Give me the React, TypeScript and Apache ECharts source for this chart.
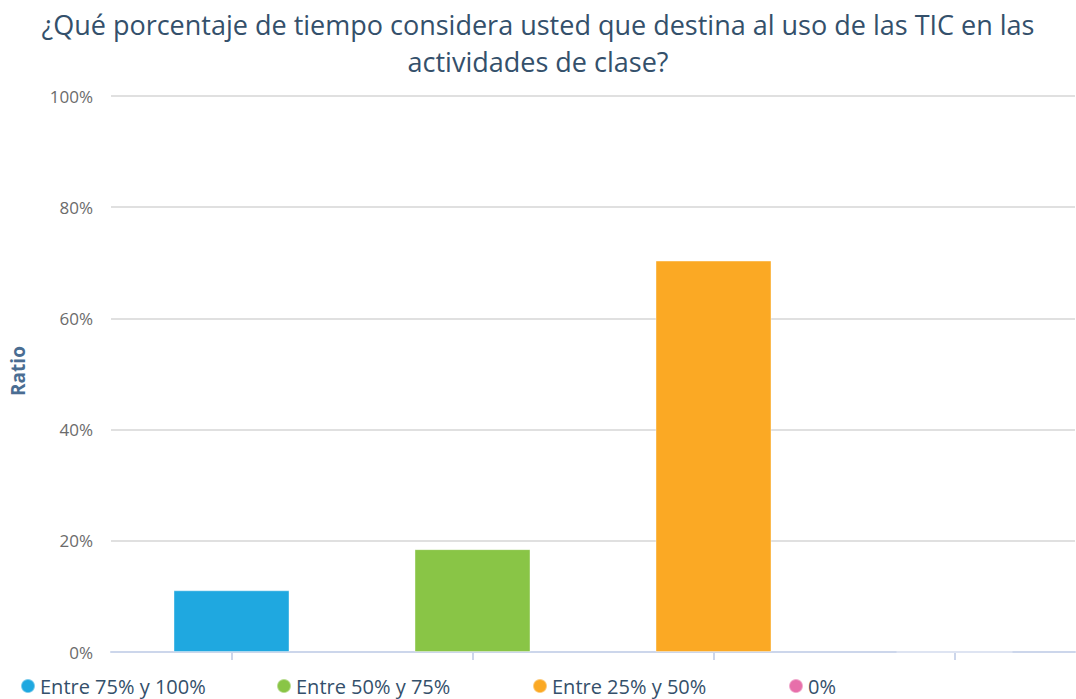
import React, { useEffect, useRef } from "react";
import * as echarts from "echarts";

const categories = ["Entre 75% y 100%", "Entre 50% y 75%", "Entre 25% y 50%", "0%"];
const values = [11.1, 18.5, 70.4, 0];
const colors = ["#1fa8e0", "#89c546", "#fba924", "#e76faa"];
const yTicks = [0, 20, 40, 60, 80, 100];

export default function App() {
  const ref = useRef<HTMLDivElement>(null);
  useEffect(() => {
    const chart = echarts.init(ref.current!, null, { renderer: "svg" });
    const font = "'Open Sans', sans-serif";
    chart.setOption({
      animation: false,
      title: {
        text: "¿Qué porcentaje de tiempo considera usted que destina al uso de las TIC en las\nactividades de clase?",
        left: "center",
        top: 1,
        textStyle: {
          fontFamily: font,
          fontSize: 27,
          fontWeight: "normal",
          color: "#34506b",
          lineHeight: 37,
          align: "center",
        },
      },
      legend: categories.map((name, i) => ({
        left: 15 + i * 256,
        bottom: -2,
        icon: "circle",
        itemWidth: 14,
        itemHeight: 14,
        itemGap: 6,
        textStyle: { fontFamily: font, fontSize: 20, color: "#34506b" },
        data: [name],
      })),
      grid: { left: 110, right: 1, top: 96, bottom: 47 },
      xAxis: {
        type: "category",
        data: categories,
        axisLine: { lineStyle: { color: "#ccd6eb", width: 2 } },
        axisTick: { show: true, interval: 0, alignWithLabel: true, length: 8, lineStyle: { color: "#ccd6eb", width: 2 } },
        axisLabel: { show: true, interval: 0, color: "rgba(0,0,0,0)", fontSize: 1 },
      },
      yAxis: {
        type: "value",
        min: yTicks[0],
        max: yTicks[yTicks.length - 1],
        interval: 20,
        name: "Ratio",
        nameLocation: "middle",
        nameGap: 84,
        nameTextStyle: { fontFamily: font, fontSize: 19, fontWeight: "bold", color: "#4a6d92", padding: [0, 0, 0, 6] },
        axisLabel: {
          formatter: "{value}%",
          fontFamily: font,
          fontSize: 17,
          color: "#6b6b6b",
          margin: 18,
        },
        splitLine: { lineStyle: { color: "#d6d6d6", width: 1.5 } },
        axisLine: { show: false },
        axisTick: { show: false },
      },
      series: categories.map((name, i) => ({
        name,
        type: "bar",
        barWidth: 116,
        barGap: "-100%",
        itemStyle: { color: colors[i], borderColor: "rgba(255,255,255,0.4)", borderWidth: 1 },
        data: categories.map((_, j) => (j === i ? values[i] : "-")),
      })),
    });
    return () => chart.dispose();
  }, []);
  return <div ref={ref} style={{ width: 1076, height: 699, position: "absolute", left: 0, top: 0 }} />;
}
